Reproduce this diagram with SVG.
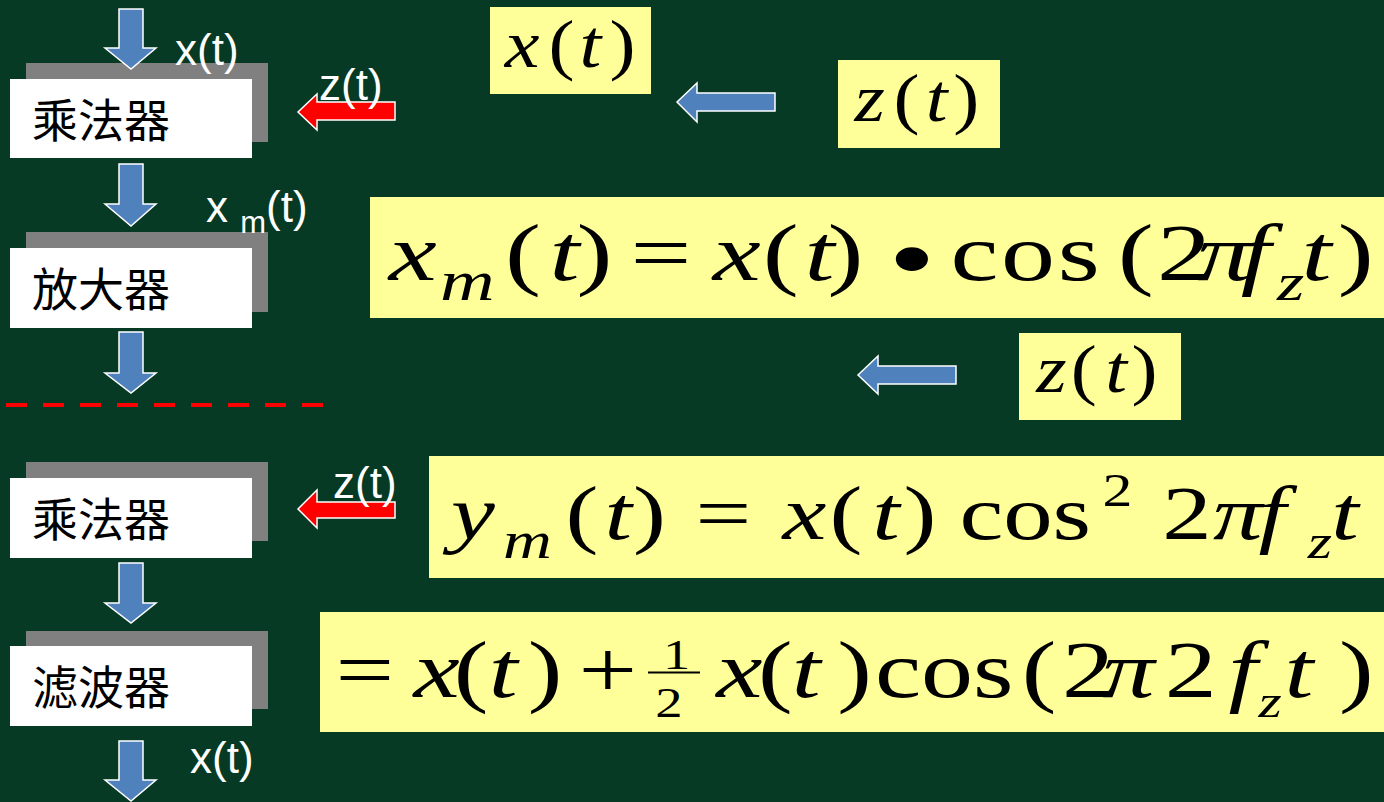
<svg xmlns="http://www.w3.org/2000/svg" width="1384" height="802" viewBox="0 0 1384 802">
<style>
.lbl{font-family:"Liberation Sans",Arial,sans-serif;font-size:44px;fill:#ffffff}
.cjk{font-family:"Noto Sans CJK SC","Noto Sans CJK JP",sans-serif;font-size:46px;fill:#000000}
.shadow{fill:#808080}
.box{fill:#ffffff}
.yb{fill:#ffff99}
.m{font-family:"Liberation Serif","Times New Roman",serif;fill:#000000}
.i{font-style:italic}
.ba{fill:#4f81bd;stroke:#ffffff;stroke-width:1.5}
.ra{fill:#ff0000;stroke:#ffffff;stroke-width:1.5}
</style>
<rect x="0" y="0" width="1384" height="802" fill="#063a25"/>

<g id="node-mult1">
<rect class="shadow" x="26" y="63" width="242" height="79"/>
<rect class="box" x="10" y="79" width="242" height="79"/>
<text class="cjk" x="32" y="137">乘法器</text>
</g>
<g id="node-amp">
<rect class="shadow" x="26" y="232" width="242" height="80"/>
<rect class="box" x="10" y="248" width="242" height="80"/>
<text class="cjk" x="32" y="306">放大器</text>
</g>
<g id="node-mult2">
<rect class="shadow" x="26" y="462" width="242" height="79"/>
<rect class="box" x="10" y="478" width="242" height="80"/>
<text class="cjk" x="32" y="536">乘法器</text>
</g>
<g id="node-filter">
<rect class="shadow" x="26" y="631" width="242" height="78"/>
<rect class="box" x="10" y="646" width="242" height="80"/>
<text class="cjk" x="32" y="704">滤波器</text>
</g>

<g id="connectors">
<path class="ba" d="M119,9 H143 V48 H156 L131,69 L105,48 H119 Z"/>
<path class="ba" d="M119,164 H143 V204 H156 L131,226 L105,204 H119 Z"/>
<path class="ba" d="M119,332 H143 V373 H156 L131,393 L105,373 H119 Z"/>
<path class="ba" d="M119,563 H143 V603 H156 L131,623 L105,603 H119 Z"/>
<path class="ba" d="M119,741 H143 V780 H156 L131,801 L105,780 H119 Z"/>
<path class="ra" d="M395,102 V120 H317 V130 L298,112 L317,94 V102 Z"/>
<path class="ra" d="M395,502 V518 H317 V528 L298,509 L317,490 V502 Z"/>
<path class="ba" d="M775,93 V111 H697 V122 L677,102 L697,83 V93 Z"/>
<path class="ba" d="M956,366 V384 H878 V394 L858,375 L878,356 V366 Z"/>
<line x1="6" y1="405" x2="325" y2="405" stroke="#ff0000" stroke-width="4" stroke-dasharray="21 16"/>
</g>

<g id="labels">
<text class="lbl" x="175" y="65">x(t)</text>
<text class="lbl" x="319" y="100">z(t)</text>
<text class="lbl" x="206" y="222">x <tspan font-size="31" y="233">m</tspan><tspan y="222">(t)</tspan></text>
<text class="lbl" x="333" y="498">z(t)</text>
<text class="lbl" x="190" y="773">x(t)</text>
</g>

<g id="box-xt">
<rect class="yb" x="490" y="7" width="161" height="87"/>
<text class="m" font-size="68" transform="scale(1.15,1)"><tspan class="i" x="439" y="67">x</tspan><tspan x="477" y="67">(</tspan><tspan class="i" x="504" y="67">t</tspan><tspan x="530" y="67">)</tspan></text>
</g>
<g id="box-zt1">
<rect class="yb" x="838" y="60" width="162" height="88"/>
<text class="m" font-size="68" transform="scale(1.15,1)"><tspan class="i" x="743" y="121">z</tspan><tspan x="777" y="121">(</tspan><tspan class="i" x="805" y="121">t</tspan><tspan x="829" y="121">)</tspan></text>
</g>
<g id="box-zt2">
<rect class="yb" x="1019" y="333" width="162" height="87"/>
<text class="m" font-size="68" transform="scale(1.15,1)"><tspan class="i" x="901" y="392">z</tspan><tspan x="931" y="392">(</tspan><tspan class="i" x="961" y="392">t</tspan><tspan x="984" y="392">)</tspan></text>
</g>

<g id="eq1">
<rect class="yb" x="370" y="197" width="1014" height="121"/>
<text class="m" font-size="80" transform="scale(1.35,1)"><tspan class="i" x="288" y="280">x</tspan><tspan class="i" x="326" y="300" font-size="56">m</tspan><tspan x="374" y="280">(</tspan><tspan class="i" x="407" y="280">t</tspan><tspan x="427" y="280">)</tspan><tspan x="467" y="280">=</tspan><tspan class="i" x="528" y="280">x</tspan><tspan x="565" y="280">(</tspan><tspan class="i" x="596" y="280">t</tspan><tspan x="613" y="280">)</tspan><tspan x="658" y="292" font-size="100">•</tspan><tspan x="704" y="280" letter-spacing="2">cos</tspan><tspan x="828" y="280">(</tspan><tspan x="857" y="280">2</tspan><tspan class="i" x="887" y="280">π</tspan><tspan class="i" x="919" y="280">f</tspan><tspan class="i" x="946" y="300" font-size="52">z</tspan><tspan class="i" x="964" y="280">t</tspan><tspan x="991" y="280">)</tspan></text>
</g>

<g id="eq2">
<rect class="yb" x="429" y="456" width="955" height="122"/>
<text class="m" font-size="76" transform="scale(1.3,1)"><tspan class="i" x="347" y="539">y</tspan><tspan class="i" x="387" y="558" font-size="52">m</tspan><tspan x="435" y="539">(</tspan><tspan class="i" x="465" y="539">t</tspan><tspan x="487" y="539">)</tspan><tspan x="535" y="539">=</tspan><tspan class="i" x="602" y="539">x</tspan><tspan x="638" y="539">(</tspan><tspan class="i" x="671" y="539">t</tspan><tspan x="695" y="539">)</tspan><tspan x="738" y="539">cos</tspan><tspan x="848" y="506" font-size="46">2</tspan><tspan x="894" y="539">2</tspan><tspan class="i" x="933" y="539">π</tspan><tspan class="i" x="968" y="539">f</tspan><tspan class="i" x="1006" y="558" font-size="48">z</tspan><tspan class="i" x="1024" y="539">t</tspan></text>
</g>

<g id="eq3">
<rect class="yb" x="320" y="612" width="1064" height="120"/>
<text class="m" font-size="80" transform="scale(1.3,1)"><tspan x="258" y="697">=</tspan><tspan class="i" x="318" y="697">x</tspan><tspan x="349" y="697">(</tspan><tspan class="i" x="376" y="697">t</tspan><tspan x="406" y="697">)</tspan><tspan x="445" y="697">+</tspan><tspan x="510" y="669" font-size="42">1</tspan><tspan x="504" y="717" font-size="42">2</tspan><tspan class="i" x="551" y="697">x</tspan><tspan x="583" y="697">(</tspan><tspan class="i" x="609" y="697">t</tspan><tspan x="644" y="697">)</tspan><tspan x="673" y="697">cos</tspan><tspan x="786" y="697">(</tspan><tspan x="817" y="697">2</tspan><tspan class="i" x="848" y="697">π</tspan><tspan x="896" y="697">2</tspan><tspan class="i" x="945" y="697">f</tspan><tspan class="i" x="968" y="717" font-size="46">z</tspan><tspan class="i" x="988" y="697">t</tspan><tspan x="1030" y="697">)</tspan></text>
<line x1="648" y1="672.5" x2="700" y2="672.5" stroke="#000000" stroke-width="2"/>
</g>
</svg>
